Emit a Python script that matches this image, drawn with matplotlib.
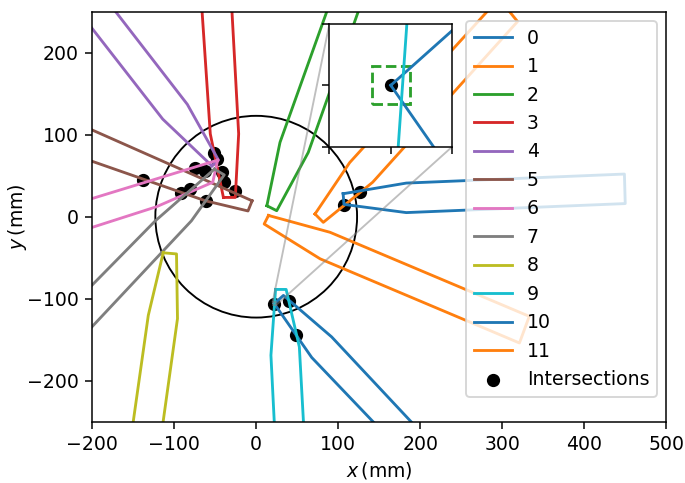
import matplotlib.pyplot as plt
from matplotlib.patches import Circle, Rectangle, ConnectionPatch

# outline of each beam (mm), closed polygons; far ends lie outside the view
beam_0 = [(22, -106), (33.2, -96), (92, -146.6), (207.6, -270), (161.6, -270), (67.7, -171.7)]
beam_1 = [(71.7, 3.3), (114, 66), (296, 266), (318.7, 238), (142, 42), (81.8, -6.9)]
beam_2 = [(13, 13.4), (29, 90.6), (91.4, 265), (129.7, 265), (63.5, 78.4), (25, 7.3)]
beam_3 = [(-40, 23.5), (-56, 101), (-66.8, 262), (-30.2, 262), (-21.4, 101), (-25.5, 23.5)]
beam_4 = [(-54, 62), (-114, 119), (-230, 268), (-183, 265), (-84, 137), (-46, 69)]
beam_5 = [(-5, 19.4), (-230, 119), (-230, 78), (-62, 19.4), (-10, 7)]
beam_6 = [(-47, 69), (-230, 13), (-230, -21), (-200, -13), (-122, 12), (-53, 42)]
beam_7 = [(-51, 58), (-123, -5), (-200.5, -83.8), (-230, -114), (-230, -166),
          (-200.5, -134.5), (-79, -5), (-39, 51)]
beam_8 = [(-113.4, -44), (-131.6, -120.3), (-152.8, -270), (-116.3, -270), (-96, -124.3), (-97.2, -45.4)]
beam_9 = [(23.6, -88.7), (17.95, -169), (23.0, -270), (58.7, -270), (52.6, -158.8), (36.5, -88.7)]
beam_10 = [(106, 28), (183, 41), (449, 52), (450, 16), (183, 5), (107, 15)]
beam_11 = [(15, 1.5), (90, -19), (333, -121.5), (321, -154), (78, -51.4), (9.7, -8.9)]
beams = [beam_0, beam_1, beam_2, beam_3, beam_4, beam_5,
         beam_6, beam_7, beam_8, beam_9, beam_10, beam_11]

# intersection points (mm)
hit_x = [-137.5, -92, -81, -74.5, -62, -61, -51.7, -47.6, -41.6, -39.6, -26,
         22, 40, 48.5, 107, 126.5]
hit_y = [44.5, 28.5, 33.6, 59.5, 56, 19.4, 78, 70, 55, 42.6, 31.6,
         -106, -103, -143.7, 14, 30.5]

radius = 123
zoom_center = (22, -106)
zoom_half = 2.0
box_half = 0.62

fig = plt.figure(figsize=(685 / 136, 483 / 136), dpi=136)
ax = fig.add_axes([0.1339, 0.1269, 0.8394, 0.8489])

ax.add_patch(Circle((0, 0), radius, fill=False, color='k', lw=1))
ax.scatter(hit_x, hit_y, color='k', label='Intersections', zorder=1)
for i, b in enumerate(beams):
    xs = [p[0] for p in b] + [b[0][0]]
    ys = [p[1] for p in b] + [b[0][1]]
    ax.plot(xs, ys, color=f'C{i % 10}', label=str(i))

ax.set_xlim(-200, 500)
ax.set_ylim(-250, 250)
ax.set_aspect('equal')
ax.set_xlabel(r'$x\,$(mm)', labelpad=3)
ax.set_ylabel(r'$y\,$(mm)', labelpad=-1)

handles, labels = ax.get_legend_handles_labels()
# put the scatter entry last
handles = handles[1:] + handles[:1]
labels = labels[1:] + labels[:1]
ax.legend(handles, labels, loc='upper right')

# zoomed inset
axins = ax.inset_axes([0.4132, 0.6707, 0.2139, 0.2993])
axins.scatter(hit_x, hit_y, color='k', zorder=1)
for i, b in enumerate(beams):
    xs = [p[0] for p in b] + [b[0][0]]
    ys = [p[1] for p in b] + [b[0][1]]
    axins.plot(xs, ys, color=f'C{i % 10}')
cx, cy = zoom_center
h = zoom_half
axins.set_xlim(cx - h, cx + h)
axins.set_ylim(cy - h, cy + h)
axins.set_xticks([cx - h, cx, cx + h])
axins.set_yticks([cy - h, cy, cy + h])
axins.set_xticklabels([])
axins.set_yticklabels([])
axins.add_patch(Rectangle((cx - box_half, cy - box_half), 2 * box_half, 2 * box_half,
                          fill=False, ec='C2', ls='--', lw=1.5))

# zoom box on the main axes + the two connector lines (upper-left, lower-right)
ax.indicate_inset([cx - h, cy - h, 2 * h, 2 * h])
for ins_corner, data_corner in [((0, 1), (cx - h, cy + h)), ((1, 0), (cx + h, cy - h))]:
    con = ConnectionPatch(xyA=ins_corner, coordsA=axins.transAxes,
                          xyB=data_corner, coordsB=ax.transData,
                          color='0.5', alpha=0.5, lw=1, zorder=4.99)
    ax.add_artist(con)

fig.savefig('out.png', dpi=136)
